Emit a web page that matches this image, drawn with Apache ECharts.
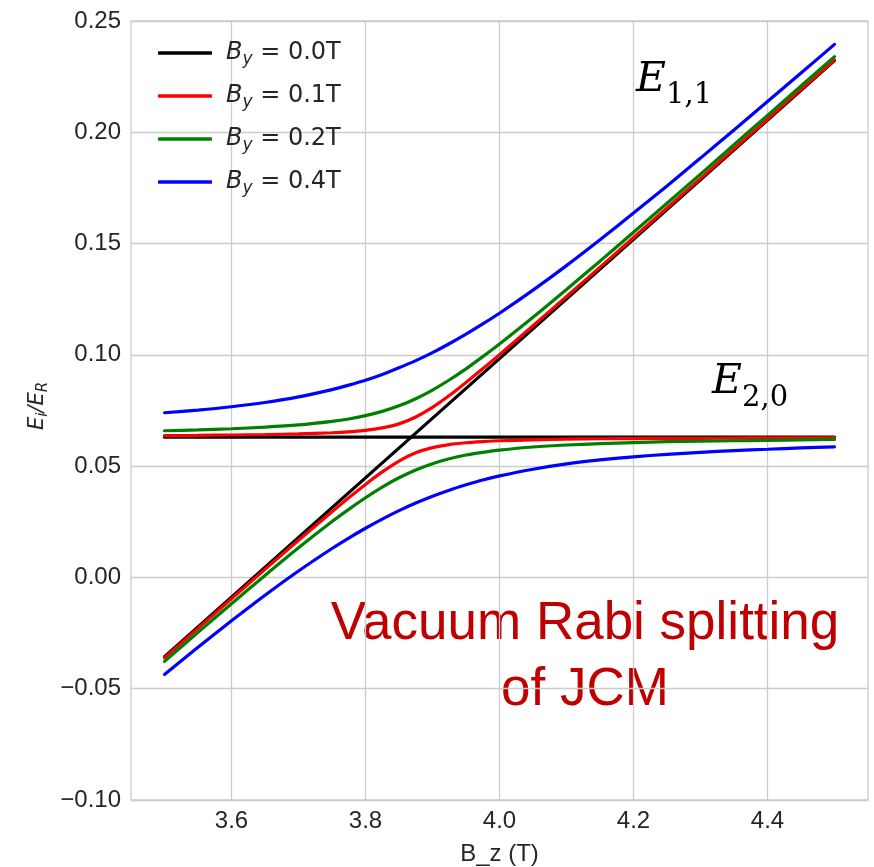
<!DOCTYPE html>
<html>
<head>
<meta charset="utf-8">
<script src="https://cdn.jsdelivr.net/npm/echarts@6/dist/echarts.min.js"></script>
<style>
html,body{margin:0;padding:0;background:#fff;}
#chart{width:874px;height:867px;}
</style>
</head>
<body>
<div id="chart"></div>
<script>
// ---- data ----
const byLabels = ['0.0', '0.1', '0.2', '0.4'];
const lineColors = ['#000000', '#ff0000', '#008000', '#0000ff'];
const xTickValues = [3.6, 3.8, 4.0, 4.2, 4.4];

// uncoupled (B_y = 0) levels: straight lines
const bzEnds = [3.5, 4.5];
const blackE11 = [-0.0356, 0.2322];
const blackE20 = [0.0630, 0.0630];

// coupled branches sampled along B_z
const bzValues = [3.50, 3.55, 3.60, 3.65, 3.70, 3.75, 3.775, 3.80, 3.825, 3.85, 3.875, 3.90, 3.925,
                  3.95, 3.975, 4.00, 4.05, 4.10, 4.15, 4.20, 4.25, 4.30, 4.35, 4.40, 4.45, 4.50];
const redUpper = [0.0637, 0.0638, 0.0640, 0.0642, 0.0645, 0.0650, 0.0654, 0.0661, 0.0672, 0.0690, 0.0721, 0.0764, 0.0817,
                  0.0876, 0.0938, 0.1001, 0.1131, 0.1262, 0.1394, 0.1527, 0.1660, 0.1793, 0.1926, 0.2060, 0.2193, 0.2326];
const redLower = [-0.0361, -0.0229, -0.0096, 0.0036, 0.0167, 0.0295, 0.0358, 0.0418, 0.0474, 0.0523, 0.0560, 0.0583, 0.0597,
                  0.0605, 0.0610, 0.0614, 0.0618, 0.0621, 0.0623, 0.0624, 0.0625, 0.0625, 0.0626, 0.0627, 0.0627, 0.0628];
const greenUpper = [0.0659, 0.0663, 0.0668, 0.0675, 0.0685, 0.0701, 0.0712, 0.0727, 0.0746, 0.0771, 0.0803, 0.0842, 0.0887,
                    0.0937, 0.0992, 0.1049, 0.1169, 0.1294, 0.1421, 0.1551, 0.1681, 0.1812, 0.1944, 0.2076, 0.2208, 0.2340];
const greenLower = [-0.0377, -0.0247, -0.0118, 0.0009, 0.0133, 0.0251, 0.0306, 0.0358, 0.0406, 0.0448, 0.0483, 0.0511, 0.0533,
                    0.0550, 0.0562, 0.0572, 0.0586, 0.0595, 0.0601, 0.0606, 0.0610, 0.0612, 0.0614, 0.0616, 0.0618, 0.0620];
const blueUpper = [0.0740, 0.0752, 0.0767, 0.0786, 0.0811, 0.0844, 0.0864, 0.0886, 0.0912, 0.0942, 0.0974, 0.1010, 0.1050,
                   0.1093, 0.1139, 0.1187, 0.1291, 0.1401, 0.1517, 0.1637, 0.1759, 0.1884, 0.2010, 0.2138, 0.2266, 0.2395];
const blueLower = [-0.0436, -0.0314, -0.0195, -0.0080, 0.0029, 0.0130, 0.0177, 0.0221, 0.0262, 0.0300, 0.0334, 0.0365, 0.0392,
                   0.0416, 0.0438, 0.0456, 0.0486, 0.0510, 0.0528, 0.0542, 0.0553, 0.0562, 0.0570, 0.0576, 0.0582, 0.0587];

// ---- build ----
const pair = (xs, ys) => xs.map((x, i) => [x, ys[i]]);
const seriesNames = byLabels.map(v => 'B_y = ' + v + 'T');
const branches = [
  [pair(bzEnds, blackE11), pair(bzEnds, blackE20)],
  [pair(bzValues, redUpper), pair(bzValues, redLower)],
  [pair(bzValues, greenUpper), pair(bzValues, greenLower)],
  [pair(bzValues, blueUpper), pair(bzValues, blueLower)]
];
const series = [];
branches.forEach((br, k) => {
  br.forEach(d => {
    series.push({
      name: seriesNames[k], type: 'line', data: d, showSymbol: false, symbol: 'none',
      smooth: k === 0 ? false : 0.25,
      lineStyle: { color: lineColors[k], width: 3.2, cap: 'round' },
      itemStyle: { color: lineColors[k] },
      emphasis: { disabled: true }, silent: true
    });
  });
});

const TXT = '#262626';
const chart = echarts.init(document.getElementById('chart'), null, { renderer: 'canvas' });
chart.setOption({
  animation: false,
  backgroundColor: '#ffffff',
  grid: { left: 131, right: 6, top: 21, bottom: 67, show: true, borderColor: '#cccccc', borderWidth: 1.3,
          backgroundColor: 'transparent', containLabel: false, outerBoundsMode: 'none' },
  xAxis: {
    type: 'value', min: 3.45, max: 4.55,
    axisLine: { show: false }, axisTick: { show: false, customValues: xTickValues },
    axisLabel: { customValues: xTickValues, formatter: v => v.toFixed(1), fontSize: 24, color: TXT, fontFamily: 'Liberation Sans', margin: 9 },
    splitLine: { show: true, lineStyle: { color: '#cccccc', width: 1.3 } },
    name: 'B_z (T)', nameLocation: 'middle', nameGap: 42,
    nameTextStyle: { fontSize: 24, color: TXT, fontFamily: 'Liberation Sans' }
  },
  yAxis: {
    type: 'value', min: -0.1, max: 0.25, interval: 0.05,
    axisLine: { show: false }, axisTick: { show: false },
    axisLabel: { formatter: v => (Math.abs(v) < 1e-9 ? 0 : v).toFixed(2).replace('-', '\u2212'), fontSize: 24, color: TXT, fontFamily: 'Liberation Sans', margin: 10 },
    splitLine: { show: true, lineStyle: { color: '#cccccc', width: 1.3 } }
  },
  legend: {
    data: seriesNames, orient: 'vertical', left: 153, top: 36,
    itemWidth: 54, itemHeight: 3.5, itemGap: 16, icon: 'roundRect',
    formatter: name => '{b|B}{s|y}{t| = ' + name.match(/[\d.]+T/)[0] + '}',
    textStyle: {
      rich: {
        b: { fontFamily: 'DejaVu Sans', fontStyle: 'italic', fontSize: 24, lineHeight: 30, color: TXT, padding: [0, 0, 0, 9] },
        s: { fontFamily: 'DejaVu Sans', fontStyle: 'italic', fontSize: 17, lineHeight: 17, color: TXT, verticalAlign: 'bottom' },
        t: { fontFamily: 'DejaVu Sans', fontSize: 24, lineHeight: 30, color: TXT }
      }
    },
    selectedMode: false
  },
  graphic: [
    { type: 'text', x: 636, y: 80, silent: true,
      style: { text: 'E', fontFamily: 'DejaVu Serif', fontStyle: 'italic', fontSize: 41, fill: '#000', align: 'left', textAlign: 'left', verticalAlign: 'middle', textVerticalAlign: 'middle' } },
    { type: 'text', x: 666, y: 95, silent: true,
      style: { text: '1,1', fontFamily: 'DejaVu Serif', fontSize: 29, fill: '#000', align: 'left', textAlign: 'left', verticalAlign: 'middle', textVerticalAlign: 'middle' } },
    { type: 'text', x: 712, y: 382, silent: true,
      style: { text: 'E', fontFamily: 'DejaVu Serif', fontStyle: 'italic', fontSize: 41, fill: '#000', align: 'left', textAlign: 'left', verticalAlign: 'middle', textVerticalAlign: 'middle' } },
    { type: 'text', x: 742, y: 398, silent: true,
      style: { text: '2,0', fontFamily: 'DejaVu Serif', fontSize: 29, fill: '#000', align: 'left', textAlign: 'left', verticalAlign: 'middle', textVerticalAlign: 'middle' } },
    { type: 'text', x: 585, y: 624, silent: true,
      style: { text: 'Vacuum Rabi splitting', fontFamily: 'Liberation Sans', fontSize: 53, fill: '#c00000', align: 'center', textAlign: 'center', verticalAlign: 'middle', textVerticalAlign: 'middle' } },
    { type: 'text', x: 585, y: 690, silent: true,
      style: { text: 'of JCM', fontFamily: 'Liberation Sans', fontSize: 53, fill: '#c00000', align: 'center', textAlign: 'center', verticalAlign: 'middle', textVerticalAlign: 'middle' } },
    { type: 'text', x: 38, y: 406, rotation: Math.PI / 2, silent: true,
      style: {
        text: '{m|E}{s|i}{m|/E}{s|R}', align: 'center', textAlign: 'center', verticalAlign: 'middle', textVerticalAlign: 'middle',
        rich: {
          m: { fontFamily: 'DejaVu Sans', fontStyle: 'italic', fontSize: 21, lineHeight: 25, fill: TXT, color: TXT },
          s: { fontFamily: 'DejaVu Sans', fontStyle: 'italic', fontSize: 15, lineHeight: 15, fill: TXT, color: TXT, verticalAlign: 'bottom' }
        }
      } }
  ],
  series: series
});
</script>
</body>
</html>
